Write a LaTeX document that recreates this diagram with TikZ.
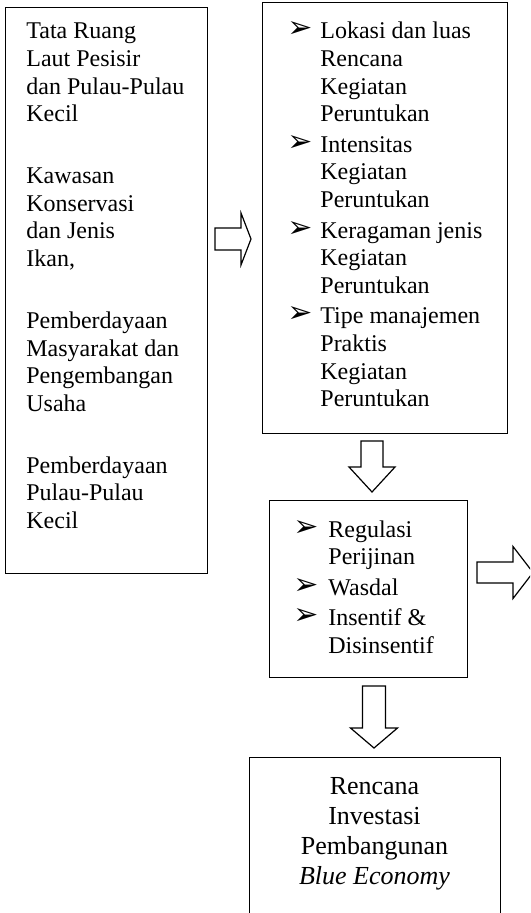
\documentclass[tikz,border=0pt]{standalone}
\usepackage{fontspec}
\setmainfont{Liberation Serif}
\newfontfamily\bulletfont{DejaVu Sans}
\usetikzlibrary{positioning}

\tikzset{
  box/.style={draw,line width=0.7pt,inner sep=0pt,anchor=north west},
  textblock/.style={inner sep=0pt,font=\fontsize{12}{13.8}\selectfont},
  arrowline/.style={draw,line width=0.6pt,line join=miter,fill=white},
  pics/blockarrow/.style n args={4}{code={
    \draw[arrowline] (0,-#3) -- (#1-#2,-#3) -- (#1-#2,-#4) -- (#1,0) -- (#1-#2,#4) -- (#1-#2,#3) -- (0,#3) -- cycle;
  }}
}
\newcommand{\pointer}[1]{\makebox[#1][l]{\bulletfont\bfseries\fontsize{15}{15}\selectfont\raisebox{0.5pt}{➢}}}

\begin{document}
\begin{tikzpicture}[x=0.5pt,y=-0.5pt]
    \useasboundingbox (0,0) rectangle (530,913);
    \clip (0,0) rectangle (530,913);

    % boxes
    \node[box,minimum width=101pt,minimum height=283pt] (tata) at (5,7) {};
    \node[box,minimum width=122.5pt,minimum height=215.5pt] (kegiatan) at (262,2) {};
    \node[box,minimum width=99pt,minimum height=88.25pt] (regulasi) at (269,500) {};
    \node[box,minimum width=125.5pt,minimum height=100pt] (investasi) at (249,757) {};

    % texts
    \node[textblock,anchor=base west] (tata-text) at (26,39) {\begin{tabular}[t]{@{}l@{}}
        Tata Ruang\\
        Laut Pesisir\\
        dan Pulau-Pulau\\
        Kecil\\[17.2pt]
        Kawasan\\
        Konservasi\\
        dan Jenis\\
        Ikan,\\[17.2pt]
        Pemberdayaan\\
        Masyarakat dan\\
        Pengembangan\\
        Usaha\\[17.2pt]
        Pemberdayaan\\
        Pulau-Pulau\\
        Kecil
    \end{tabular}};

    \node[textblock,anchor=base west] (kegiatan-text) at (287,39) {\begin{tabular}[t]{@{}l@{}l@{}}
        \pointer{16.5pt} & Lokasi dan luas\\
        & Rencana\\
        & Kegiatan\\
        & Peruntukan\\[1.5pt]
        \pointer{16.5pt} & Intensitas\\
        & Kegiatan\\
        & Peruntukan\\[1.5pt]
        \pointer{16.5pt} & Keragaman jenis\\
        & Kegiatan\\
        & Peruntukan\\[1.5pt]
        \pointer{16.5pt} & Tipe manajemen\\
        & Praktis\\
        & Kegiatan\\
        & Peruntukan
    \end{tabular}};

    \node[textblock,anchor=base west] (regulasi-text) at (293,537) {\begin{tabular}[t]{@{}l@{}l@{}}
        \pointer{17.5pt} & Regulasi\\
        & Perijinan\\[1.5pt]
        \pointer{17.5pt} & Wasdal\\[1.5pt]
        \pointer{17.5pt} & Insentif \&\\
        & Disinsentif
    \end{tabular}};

    \node[inner sep=0pt,font=\fontsize{13}{15}\selectfont,anchor=base] (investasi-text) at (374.5,794) {\begin{tabular}[t]{@{}c@{}}
        Rencana\\
        Investasi\\
        Pembangunan\\
        \textit{Blue Economy}
    \end{tabular}};

    % block arrows
    \pic at (215,239) {blockarrow={36}{10}{11}{26}};
    \pic[rotate=-90] at (372,441) {blockarrow={51}{25}{11}{23}};
    \pic at (477,572.5) {blockarrow={56}{20}{10.5}{26}};
    \pic[rotate=-90] at (374,686) {blockarrow={62}{20}{11.5}{23.5}};
\end{tikzpicture}
\end{document}
